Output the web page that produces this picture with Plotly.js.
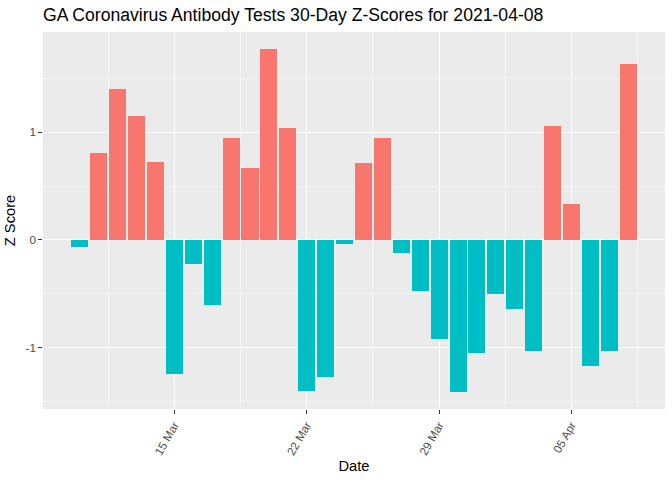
<!DOCTYPE html>
<html>
<head>
<meta charset="utf-8">
<script src="https://cdn.plot.ly/plotly-3.0.1.min.js"></script>
<style>
html,body{margin:0;padding:0;background:#fff;}
#chart{width:672px;height:480px;}
</style>
</head>
<body>
<div id="chart"></div>
<script>
const dates = ["2021-03-10","2021-03-11","2021-03-12","2021-03-13","2021-03-14","2021-03-15","2021-03-16","2021-03-17","2021-03-18","2021-03-19",
"2021-03-20","2021-03-21","2021-03-22","2021-03-23","2021-03-24","2021-03-25","2021-03-26","2021-03-27","2021-03-28","2021-03-29",
"2021-03-30","2021-03-31","2021-04-01","2021-04-02","2021-04-03","2021-04-04","2021-04-05","2021-04-06","2021-04-07","2021-04-08"];
const zScores = [-0.07,0.81,1.40,1.15,0.72,-1.24,-0.22,-0.60,0.95,0.67,
1.77,1.04,-1.40,-1.27,-0.04,0.71,0.95,-0.12,-0.47,-0.92,
-1.41,-1.05,-0.50,-0.64,-1.03,1.06,0.33,-1.17,-1.03,1.63];
const xTickVals = ["2021-03-15","2021-03-22","2021-03-29","2021-04-05"];
const xTickText = ["15 Mar","22 Mar","29 Mar","05 Apr"];
const xMinorVals = ["2021-03-11 12:00","2021-03-18 12:00","2021-03-25 12:00","2021-04-01 12:00","2021-04-08 12:00"];
const yTickVals = [-1,0,1];
const yTickText = ["-1","0","1"];
const yMinorVals = [-1.5,-0.5,0.5,1.5];

const DAY = 86400000;
const colors = zScores.map(v => v >= 0 ? "#F8766D" : "#00BFC4");

// ggplot-like expansion
const t0 = new Date(dates[0]+"T00:00:00Z").getTime();
const t1 = new Date(dates[dates.length-1]+"T00:00:00Z").getTime();
const lo = t0 - 0.45*DAY, hi = t1 + 0.45*DAY;
const ex = (hi-lo)*0.05;
const fmt = t => new Date(t).toISOString().replace("T"," ").replace("Z","");
const ymin = Math.min(...zScores), ymax = Math.max(...zScores);
const ey = (ymax-ymin)*0.05;

const trace = {
  type: "bar",
  x: dates,
  y: zScores,
  width: zScores.map(()=>0.9*DAY),
  marker: {color: colors, line: {width: 0}},
  hoverinfo: "x+y",
  showlegend: false
};

const tickFont = {family: "Liberation Sans, Arial, sans-serif", size: 11.7, color: "#4D4D4D"};
const layout = {
  width: 672, height: 480,
  margin: {l: 43, r: 7, t: 32, b: 71},
  paper_bgcolor: "#FFFFFF",
  plot_bgcolor: "#EBEBEB",
  font: {family: "Liberation Sans, Arial, sans-serif", color: "#000"},
  title: {text: "GA Coronavirus Antibody Tests 30-Day Z-Scores for 2021-04-08",
          font: {size: 17.6, color: "#000"}, xref: "container", yref: "container",
          x: 43/672, xanchor: "left", y: 1-15/480, yanchor: "middle"},
  bargap: 0,
  xaxis: {
    type: "date",
    range: [fmt(lo-ex), fmt(hi+ex)],
    tickmode: "array", tickvals: xTickVals, ticktext: xTickText,
    tickangle: -60, tickfont: tickFont,
    ticks: "outside", ticklen: 3.7, tickwidth: 1.07, tickcolor: "#333333",
    showgrid: true, gridcolor: "#FFFFFF", gridwidth: 1.07,
    minor: {tickmode: "array", tickvals: xMinorVals, showgrid: true, gridcolor: "#FFFFFF", gridwidth: 0.53, ticks: ""},
    zeroline: false, showline: false,
    title: {text: "Date", font: {size: 14.7, color: "#000"}, standoff: 4},
    fixedrange: true
  },
  yaxis: {
    range: [ymin-ey, ymax+ey],
    tickmode: "array", tickvals: yTickVals, ticktext: yTickText,
    tickfont: tickFont,
    ticks: "outside", ticklen: 3.7, tickwidth: 1.07, tickcolor: "#333333",
    showgrid: true, gridcolor: "#FFFFFF", gridwidth: 1.07,
    minor: {tickmode: "array", tickvals: yMinorVals, showgrid: true, gridcolor: "#FFFFFF", gridwidth: 0.53, ticks: ""},
    zeroline: false, showline: false,
    title: {text: "Z Score", font: {size: 14.7, color: "#000"}, standoff: 6},
    fixedrange: true
  }
};
Plotly.newPlot("chart", [trace], layout, {displayModeBar: false, staticPlot: true});
</script>
</body>
</html>
